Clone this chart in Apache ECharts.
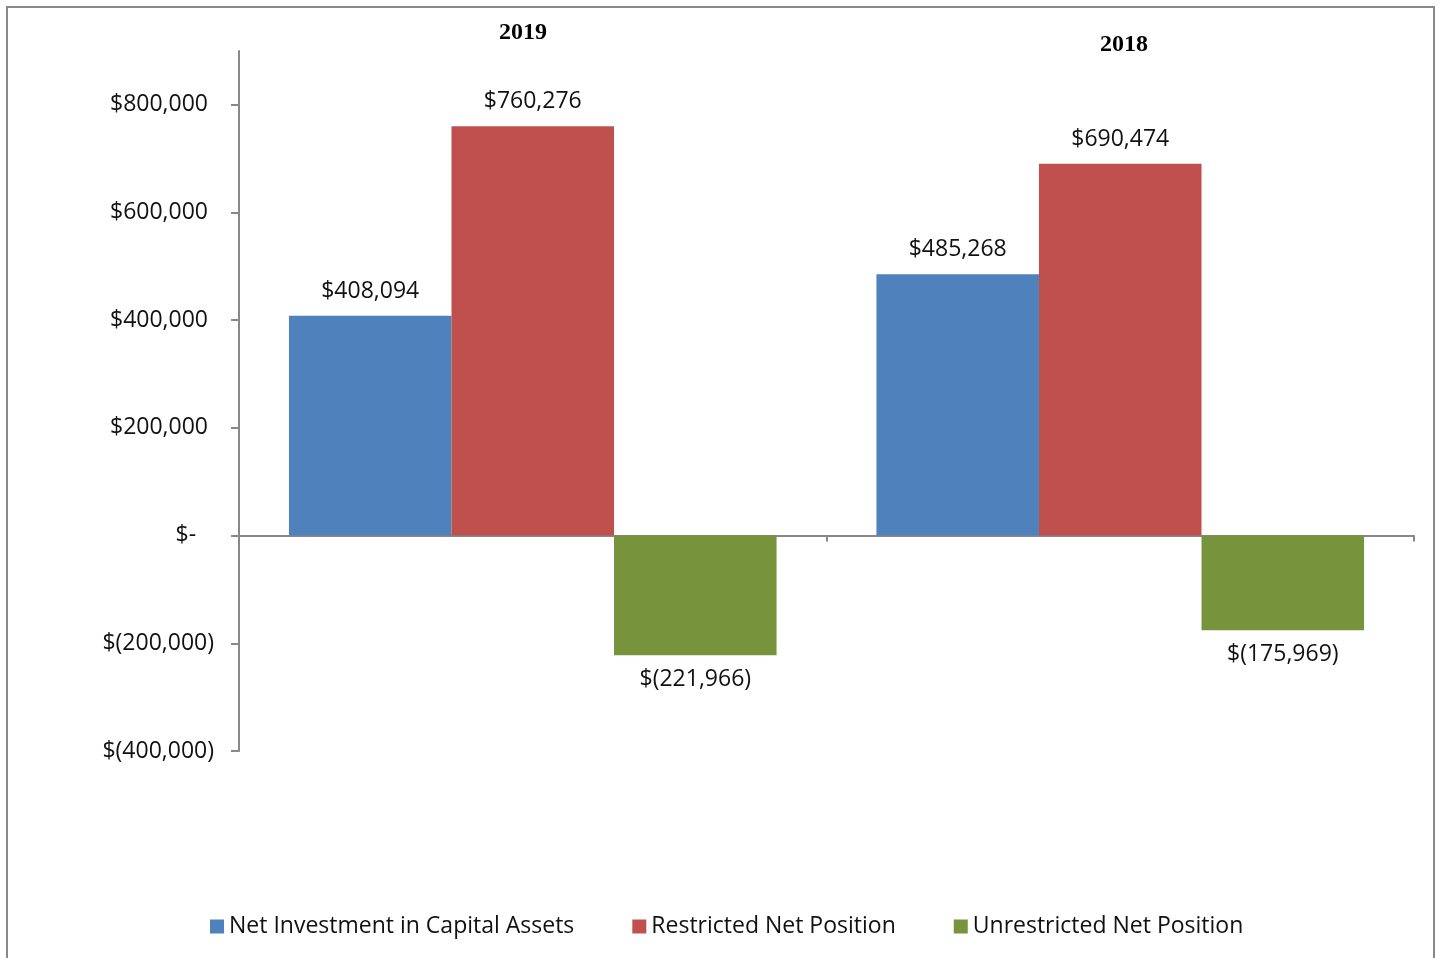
<!DOCTYPE html>
<html>
<head>
<meta charset="utf-8">
<script src="https://cdn.jsdelivr.net/npm/echarts@6/dist/echarts.min.js"></script>
<style>
  html, body { margin: 0; padding: 0; background: #fff; }
  #main { width: 1440px; height: 958px; }
</style>
</head>
<body>
<div id="main"></div>
<script>
var years = ['2019', '2018'];
var netInvestment = [408094, 485268];
var restricted = [760276, 690474];
var unrestricted = [-221966, -175969];
var seriesNames = ['Net Investment in Capital Assets', 'Restricted Net Position', 'Unrestricted Net Position'];

var myChart = echarts.init(document.getElementById('main'));

function money(v) {
    var s = Math.abs(v).toLocaleString('en-US');
    if (v < 0) return '$(' + s + ')';
    if (v === 0) return '$-';
    return '$' + s;
}

function axisMoney(v) {
    if (v < 0) return money(v);
    if (v === 0) return '$-   ';
    return money(v) + ' ';
}

var labelFont = {
    show: true,
    fontFamily: 'Open Sans',
    fontSize: 23,
    color: '#111',
    distance: 13,
    formatter: function (p) { return money(p.value); }
};

var option = {
    color: ['#4F81BD', '#C0504D', '#77933C'],
    animation: false,
    graphic: [
        {
            type: 'rect',
            shape: { x: 7, y: 7, width: 1427, height: 970 },
            style: { fill: 'none', stroke: '#888', lineWidth: 2 }
        },
        {
            type: 'text', left: 499, top: 21,
            style: { text: years[0], font: 'bold 24px "Liberation Serif"', fill: '#000' }
        },
        {
            type: 'text', left: 1100, top: 33,
            style: { text: years[1], font: 'bold 24px "Liberation Serif"', fill: '#000' }
        }
    ],
    legend: {
        data: seriesNames,
        bottom: 15,
        left: 205,
        itemWidth: 14,
        itemHeight: 14,
        itemGap: 58,
        icon: 'rect',
        textStyle: { fontFamily: 'Open Sans', fontSize: 23, color: '#111' }
    },
    grid: { left: 239, right: 26, top: 51, bottom: 207, containLabel: false },
    xAxis: {
        type: 'category',
        data: years,
        axisLine: { lineStyle: { color: '#888', width: 2 } },
        axisTick: { show: true, length: 6, lineStyle: { color: '#888', width: 2 } },
        axisLabel: { show: false }
    },
    yAxis: {
        type: 'value',
        min: -400000,
        max: 900000,
        interval: 200000,
        splitLine: { show: false },
        axisLine: { show: true, lineStyle: { color: '#888', width: 2 } },
        axisTick: { show: true, length: 8, lineStyle: { color: '#888', width: 2 } },
        axisLabel: {
            showMaxLabel: false,
            margin: 25,
            fontFamily: 'Open Sans',
            fontSize: 23,
            color: '#111',
            formatter: axisMoney
        }
    },
    series: [
        {
            name: seriesNames[0],
            type: 'bar',
            barGap: 0,
            barCategoryGap: '17%',
            data: netInvestment,
            label: Object.assign({ position: 'top' }, labelFont)
        },
        {
            name: seriesNames[1],
            type: 'bar',
            barGap: 0,
            barCategoryGap: '17%',
            data: restricted,
            label: Object.assign({ position: 'top' }, labelFont)
        },
        {
            name: seriesNames[2],
            type: 'bar',
            barGap: 0,
            barCategoryGap: '17%',
            data: unrestricted,
            label: Object.assign({ position: 'bottom' }, labelFont)
        }
    ]
};

myChart.setOption(option);
</script>
</body>
</html>
